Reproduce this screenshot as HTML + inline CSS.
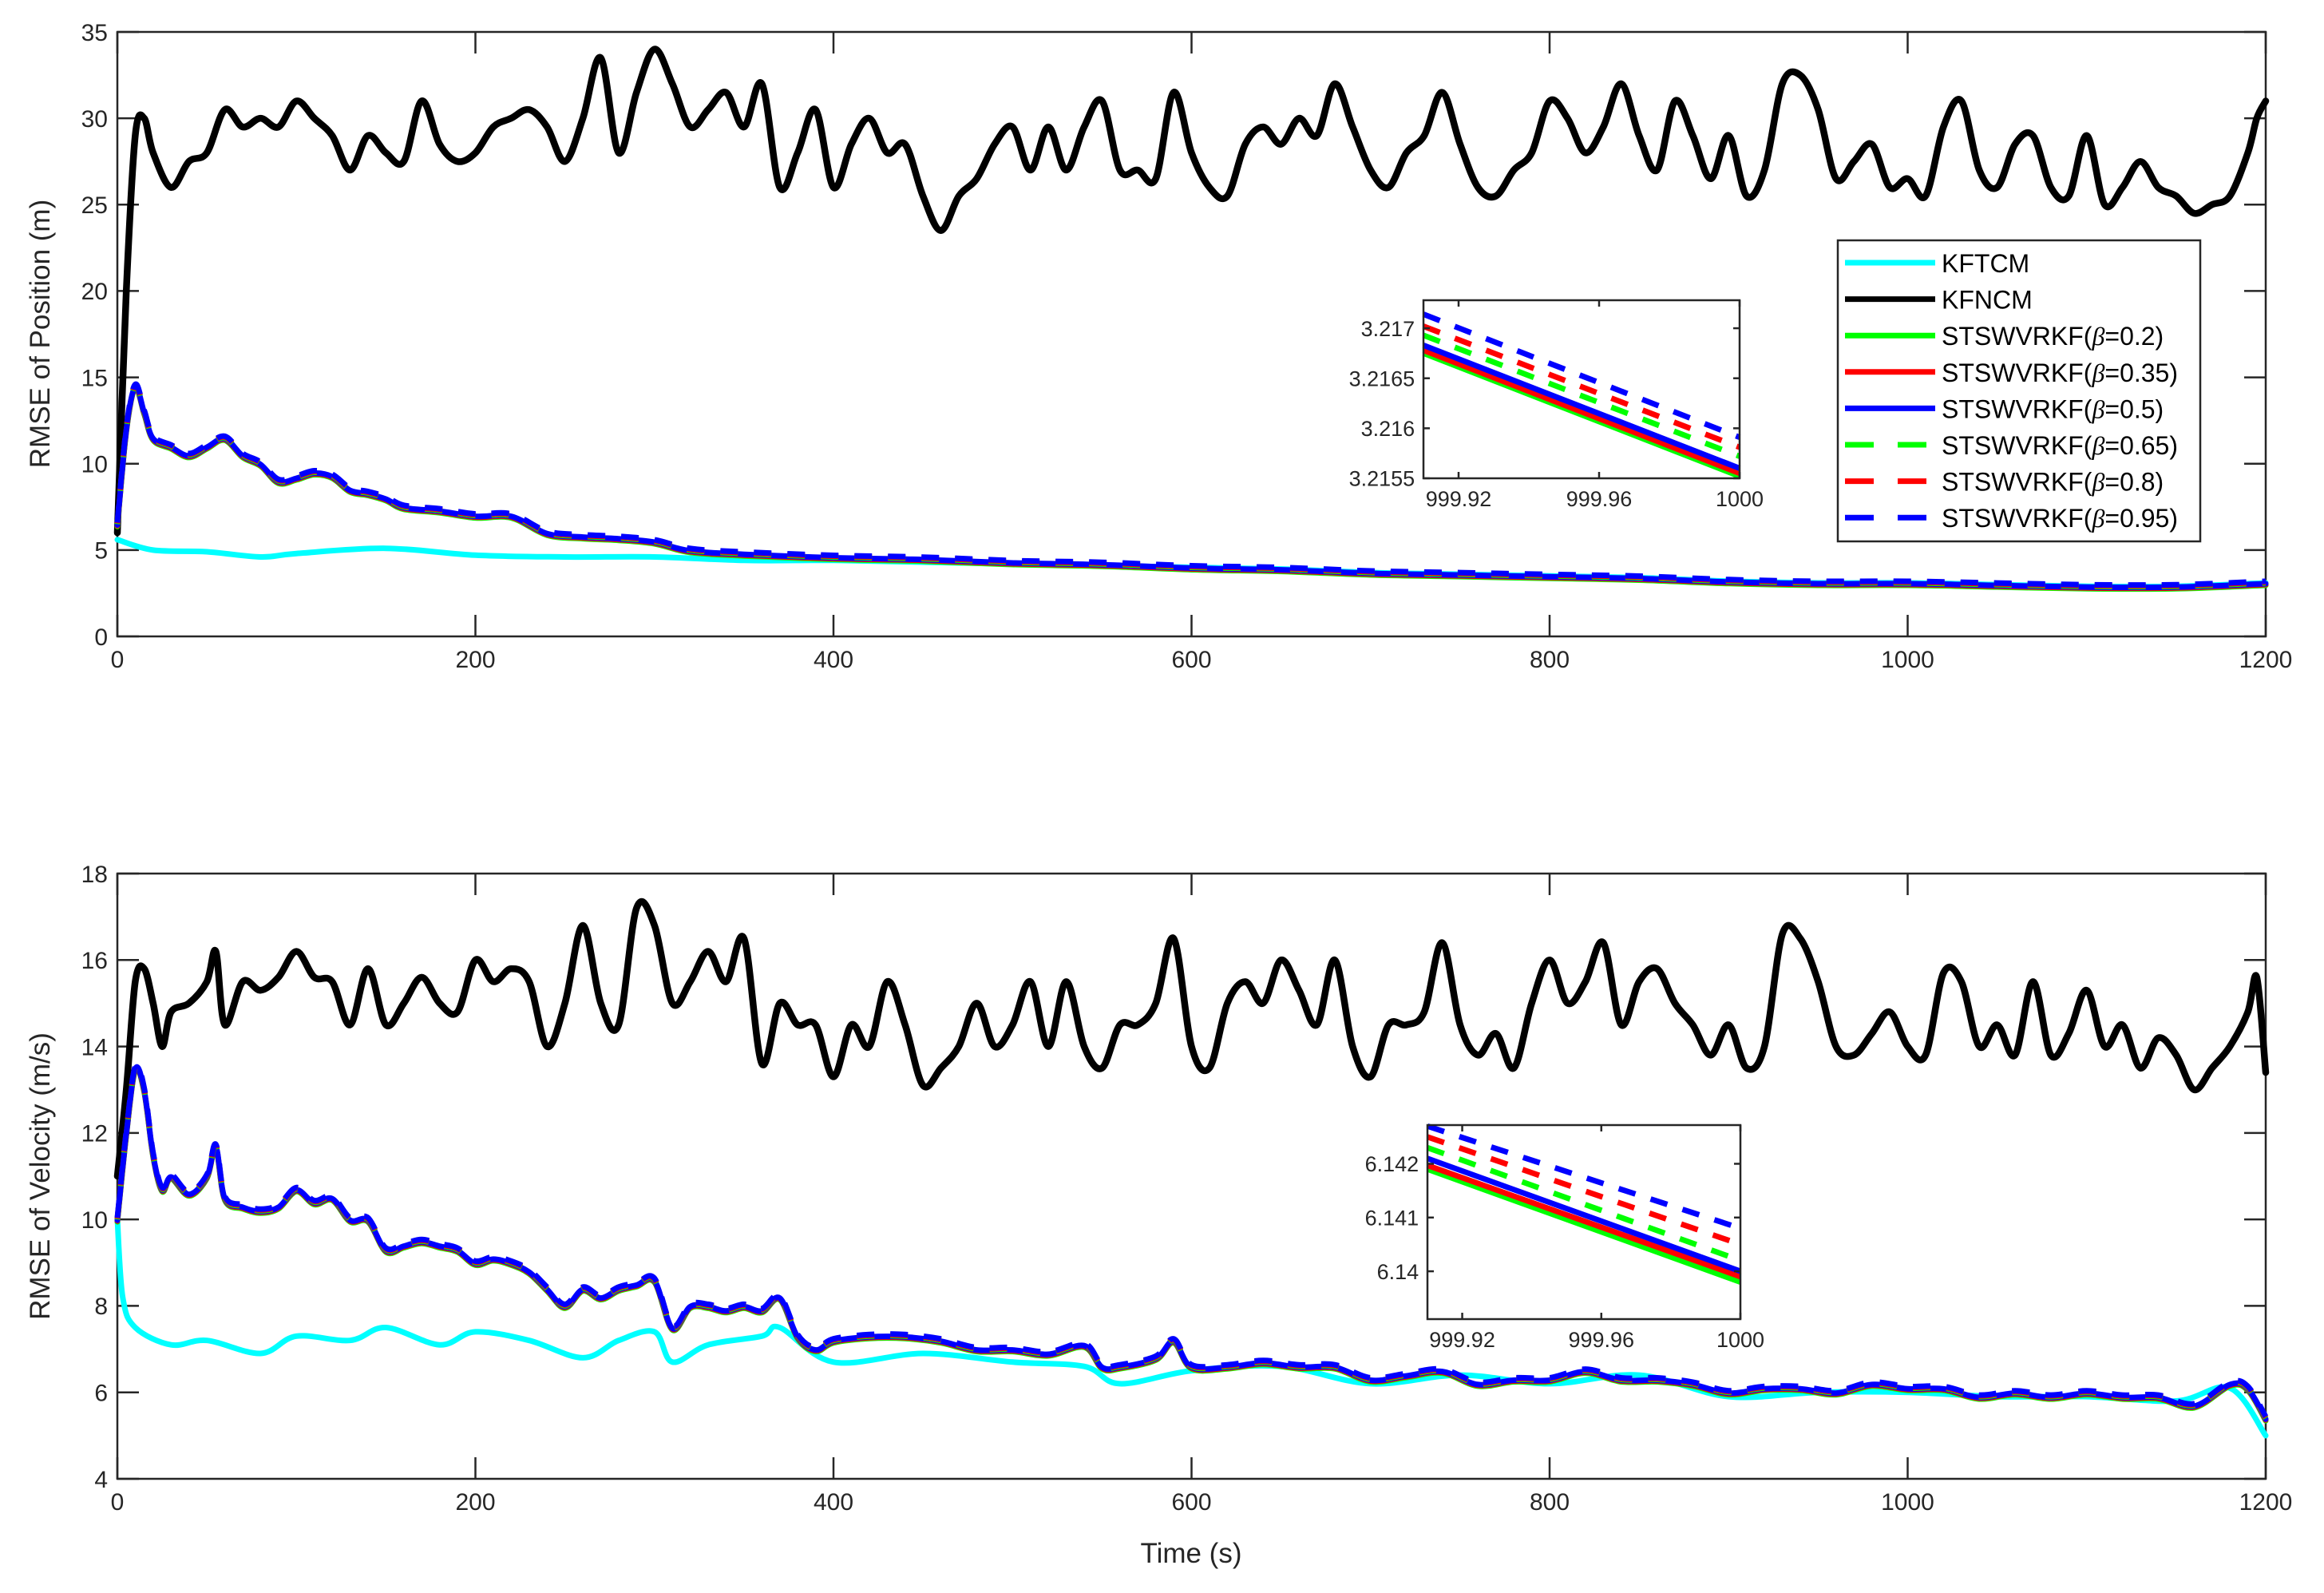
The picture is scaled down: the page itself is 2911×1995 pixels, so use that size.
<!DOCTYPE html>
<html><head><meta charset="utf-8"><style>
html,body{margin:0;padding:0;background:#fff;}
svg{display:block;font-family:"Liberation Sans",sans-serif;}
</style></head><body>
<svg id="fig" width="2911" height="1995" viewBox="0 0 2911 1995" xmlns="http://www.w3.org/2000/svg">
<rect width="2911" height="1995" fill="#fff"/>
</svg>
<script>
// ---------- data ----------
const posBlackT=[0,5,10,15,20,30,40,50,60,70,80,90,100,110,120,130,140,150,160,170,180,190,200,210,220,230,240,250,260,270,280,290,300,310,320,330,340,350,360,370,380,390,400,410,420,430,440,450,460,470,480,490,500,510,520,530,540,550,560,570,580,590,600,610,620,630,640,650,660,670,680,690,700,710,720,730,740,750,760,770,780,790,800,810,820,830,840,850,860,870,880,890,900,910,920,930,940,950,960,970,980,990,1000,1010,1020,1030,1040,1050,1060,1070,1080,1090,1100,1110,1120,1130,1140,1150,1160,1170,1180,1190,1195,1200];
const posBlackV=[6,20,29,30,28,26,27.5,28,30.5,29.5,30,29.5,31,30,29,27,29,28,27.5,31,28.5,27.5,28,29.5,30,30.5,29.5,27.5,30,33.5,28,31.5,34,32,29.5,30.5,31.5,29.5,32,26,28,30.5,26,28.5,30,28,28.5,25.5,23.5,25.5,26.5,28.5,29.5,27,29.5,27,29.5,31,27,27,26.5,31.5,28,26,25.5,28.5,29.5,28.5,30,29,32,29.5,27,26,28,29,31.5,28.5,26,25.5,27,28,31,30,28,29.5,32,29,27,31,29,26.5,29,25.5,27,32,32.5,30.5,26.5,27.5,28.5,26,26.5,25.5,29.5,31,27,26,28.5,29,26,25.5,29,25,26,27.5,26,25.5,24.5,25,25.5,28,30,31];
const posFiltT=[0,5,10,15,20,30,40,50,60,70,80,90,100,110,120,130,140,150,160,180,200,220,240,260,280,300,320,350,400,450,500,550,600,650,700,750,800,850,900,950,1000,1050,1100,1150,1200];
const posFiltV=[6.5,12,14.5,13,11.5,11,10.5,11,11.5,10.5,10,9,9.2,9.5,9.3,8.5,8.3,8,7.5,7.3,7,7,6,5.8,5.7,5.5,5,4.8,4.6,4.5,4.3,4.2,4,3.9,3.7,3.6,3.5,3.4,3.2,3.1,3.1,3,2.9,2.9,3.1];
const posCyanT=[0,20,50,80,100,150,200,250,300,350,400,450,500,550,600,650,700,750,800,850,900,950,1000,1050,1100,1150,1200];
const posCyanV=[5.6,5,4.9,4.6,4.8,5.1,4.7,4.6,4.6,4.4,4.4,4.3,4.2,4.1,4,3.9,3.7,3.6,3.5,3.4,3.2,3.1,3.1,3,2.9,2.9,3.1];

const velBlackT=[0,5,10,15,20,25,30,40,50,55,60,70,80,90,100,110,120,130,140,150,160,170,180,190,200,210,220,230,240,250,260,270,280,290,300,310,320,330,340,350,360,370,380,390,400,410,420,430,440,450,460,470,480,490,500,510,520,530,540,550,560,570,580,590,600,610,620,630,640,650,660,670,680,690,700,710,720,730,740,750,760,770,780,790,800,810,820,830,840,850,860,870,880,890,900,910,920,930,940,950,960,970,980,990,1000,1010,1020,1030,1040,1050,1060,1070,1080,1090,1100,1110,1120,1130,1140,1150,1160,1170,1180,1190,1195,1200];
const velBlackV=[11,13,15.5,15.8,15,14,14.8,15,15.5,16.2,14.5,15.5,15.3,15.6,16.2,15.6,15.5,14.5,15.8,14.5,15,15.6,15,14.8,16,15.5,15.8,15.5,14,15,16.8,15,14.5,17.2,16.8,15,15.5,16.2,15.5,16.5,13.6,15,14.5,14.5,13.3,14.5,14,15.5,14.5,13.1,13.5,14,15,14,14.5,15.5,14,15.5,14,13.5,14.5,14.5,15,16.5,14,13.5,15,15.5,15,16,15.3,14.5,16,14,13.3,14.5,14.5,14.8,16.4,14.5,13.8,14.3,13.5,15,16,15,15.5,16.4,14.5,15.5,15.8,15,14.5,13.8,14.5,13.5,14,16.6,16.5,15.5,14,13.8,14.3,14.8,14,13.8,15.7,15.5,14,14.5,13.8,15.5,13.8,14.3,15.3,14,14.5,13.5,14.2,13.8,13,13.5,14,14.8,15.6,13.4];
const velFiltT=[0,5,10,15,20,25,30,40,50,55,60,70,80,90,100,110,120,130,140,150,160,170,180,190,200,210,220,230,240,250,260,270,280,290,300,310,320,330,340,350,360,370,380,390,400,420,440,460,480,500,520,540,550,560,580,590,600,620,640,660,680,700,720,740,760,780,800,820,840,860,880,900,920,940,960,980,1000,1020,1040,1060,1080,1100,1120,1140,1160,1180,1190,1200];
const velFiltV=[10,12,13.5,13,11.5,10.7,11,10.6,11,11.7,10.5,10.3,10.2,10.3,10.7,10.4,10.5,10,10,9.3,9.4,9.5,9.4,9.3,9,9.1,9,8.8,8.4,8,8.4,8.2,8.4,8.5,8.6,7.5,8,8,7.9,8,7.9,8.2,7.3,7,7.2,7.3,7.3,7.2,7,7,6.9,7.1,6.6,6.6,6.8,7.2,6.6,6.6,6.7,6.6,6.6,6.3,6.4,6.5,6.2,6.3,6.3,6.5,6.3,6.3,6.2,6,6.1,6.1,6,6.2,6.1,6.1,5.9,6,5.9,6,5.9,5.9,5.7,6.2,6.1,5.4];
const velCyanT=[0,3,10,30,50,80,100,130,150,180,200,230,260,280,300,310,330,360,370,400,450,500,540,560,600,650,700,750,800,850,900,950,1000,1050,1100,1150,1180,1200];
const velCyanV=[10,8.2,7.5,7.1,7.2,6.9,7.3,7.2,7.5,7.1,7.4,7.2,6.8,7.2,7.4,6.7,7.1,7.3,7.5,6.7,6.9,6.7,6.6,6.2,6.5,6.6,6.2,6.4,6.2,6.4,5.9,6,6,5.9,5.9,5.8,6.1,5];

const insetX=[999.91,1000];
const inset1Start=[3.21675,3.21678,3.21683,3.21693,3.21702,3.21714];
const inset1End=[3.21552,3.21555,3.2156,3.21572,3.21581,3.21591];
const inset2Start=[6.1419,6.14197,6.1421,6.1423,6.1425,6.1427];
const inset2End=[6.1398,6.1399,6.14,6.1402,6.1405,6.1408];

const xTicks=[0,200,400,600,800,1000,1200];
const posYTicks=[0,5,10,15,20,25,30,35];
const velYTicks=[4,6,8,10,12,14,16,18];
const in1XTicks=[999.92,999.96,1000];
const in1YTicks=[3.2155,3.216,3.2165,3.217];
const in1YLabels=["3.2155","3.216","3.2165","3.217"];
const in2YTicks=[6.14,6.141,6.142];
const in2YLabels=["6.14","6.141","6.142"];
const legendLabels=["KFTCM","KFNCM","0.2","0.35","0.5","0.65","0.8","0.95"];

// ---------- drawing ----------
const NS="http://www.w3.org/2000/svg";
const svg=document.getElementById('fig');
function mk(tag,attrs,parent){const e=document.createElementNS(NS,tag);for(const k in attrs)e.setAttribute(k,attrs[k]);(parent||svg).appendChild(e);return e;}
const TXT="#262626";
const colors=["#00ff00","#ff0000","#0000ff","#00ff00","#ff0000","#0000ff"];
const dashes=[null,null,null,"22 20","22 20","22 20"];

function axes(name,L,R,T,B,x0,x1,y0,y1){
  const sx=v=>L+(v-x0)/(x1-x0)*(R-L);
  const sy=v=>B-(v-y0)/(y1-y0)*(B-T);
  return {L,R,T,B,sx,sy,name};
}
function frame(ax,xt,yt,fs,tickLen,xlabels,ylabels,lw){
  const g=mk('g',{});
  
  
  mk('rect',{x:ax.L,y:ax.T,width:ax.R-ax.L,height:ax.B-ax.T,fill:'none',stroke:TXT,'stroke-width':lw},g);
  xt.forEach((v,i)=>{
    const x=ax.sx(v);
    mk('line',{x1:x,x2:x,y1:ax.B,y2:ax.B-tickLen,stroke:TXT,'stroke-width':lw},g);
    mk('line',{x1:x,x2:x,y1:ax.T,y2:ax.T+tickLen,stroke:TXT,'stroke-width':lw},g);
    const t=mk('text',{x:x,y:ax.B+fs*1.3,'font-size':fs,fill:TXT,'text-anchor':'middle'},g);
    t.textContent=xlabels?xlabels[i]:String(v);
    
    
  });
  yt.forEach((v,i)=>{
    const y=ax.sy(v);
    mk('line',{x1:ax.L,x2:ax.L+tickLen,y1:y,y2:y,stroke:TXT,'stroke-width':lw},g);
    mk('line',{x1:ax.R,x2:ax.R-tickLen,y1:y,y2:y,stroke:TXT,'stroke-width':lw},g);
    const t=mk('text',{x:ax.L-fs*0.4,y:y+fs*0.36,'font-size':fs,fill:TXT,'text-anchor':'end'},g);
    t.textContent=ylabels?ylabels[i]:String(v);
    
    
  });
  return g;
}
function smoothPath(P){
  let d='M'+P[0][0].toFixed(1)+','+P[0][1].toFixed(1);
  for(let i=0;i<P.length-1;i++){
    const p0=P[Math.max(0,i-1)],p1=P[i],p2=P[i+1],p3=P[Math.min(P.length-1,i+2)];
    const c1x=p1[0]+(p2[0]-p0[0])/6,c1y=p1[1]+(p2[1]-p0[1])/6;
    const c2x=p2[0]-(p3[0]-p1[0])/6,c2y=p2[1]-(p3[1]-p1[1])/6;
    d+=' C'+c1x.toFixed(1)+','+c1y.toFixed(1)+' '+c2x.toFixed(1)+','+c2y.toFixed(1)+' '+p2[0].toFixed(1)+','+p2[1].toFixed(1);
  }
  return d;
}
function series(ax,T,V,color,w,dash,off,name){
  const P=T.map((t,i)=>[ax.sx(t),ax.sy(V[i])+off]);
  const a={d:smoothPath(P),fill:'none',stroke:color,'stroke-width':w,'stroke-linejoin':'round','stroke-linecap':dash?'butt':'round'};
  if(dash)a['stroke-dasharray']=dash;
  const p=mk('path',a);
  
  
  return p;
}

// top axes
const axTop=axes('position',147,2838,40,797,0,1200,0,35);
frame(axTop,xTicks,posYTicks,30,27,null,null,2.5);
series(axTop,posCyanT,posCyanV,'#00ffff',7,null,0,'kftcm-position-line');
series(axTop,posBlackT,posBlackV,'#000',8.5,null,0,'kfncm-position-line');
[3,2,1,0,-1,-2].forEach((o,i)=>series(axTop,posFiltT,posFiltV,colors[i],7,dashes[i],o,'stswvrkf-position-line-'+i));
let yl=mk('text',{x:0,y:0,'font-size':35,fill:TXT,'text-anchor':'middle',transform:'translate(62,418) rotate(-90)'});
yl.textContent='RMSE of Position (m)';



// bottom axes
const axBot=axes('velocity',147,2838,1094,1852,0,1200,4,18);
frame(axBot,xTicks,velYTicks,30,27,null,null,2.5);
series(axBot,velCyanT,velCyanV,'#00ffff',7,null,0,'kftcm-velocity-line');
series(axBot,velBlackT,velBlackV,'#000',8.5,null,0,'kfncm-velocity-line');
[3,2,1,0,-1,-2].forEach((o,i)=>series(axBot,velFiltT,velFiltV,colors[i],7,dashes[i],o,'stswvrkf-velocity-line-'+i));
yl=mk('text',{x:0,y:0,'font-size':35,fill:TXT,'text-anchor':'middle',transform:'translate(62,1473) rotate(-90)'});
yl.textContent='RMSE of Velocity (m/s)';


let xl=mk('text',{x:1492,y:1957,'font-size':35,fill:TXT,'text-anchor':'middle'});
xl.textContent='Time (s)';



// insets
function inset(name,L,R,T,B,y0,y1,yt,ylab,st,en){
  const ax=axes(name,L,R,T,B,insetX[0],insetX[1],y0,y1);
  mk('rect',{x:L,y:T,width:R-L,height:B-T,fill:'#fff'});
  for(let i=0;i<6;i++){
    const a={x1:ax.sx(insetX[0]),x2:ax.sx(insetX[1]),y1:ax.sy(st[i]),y2:ax.sy(en[i]),stroke:colors[i],'stroke-width':7};
    if(dashes[i])a['stroke-dasharray']='22 20';
    const l=mk('line',a);
    
    
  }
  frame(ax,in1XTicks,yt,27,8,["999.92","999.96","1000"],ylab,2.5);
}
inset('inset-position',1783,2179,376,599,3.2155,3.21728,in1YTicks,in1YLabels,inset1Start,inset1End);
inset('inset-velocity',1788,2180,1409,1652,6.13911,6.14272,in2YTicks,in2YLabels,inset2Start,inset2End);

// legend
const lg=mk('g',{});


mk('rect',{x:2302,y:301,width:454,height:377,fill:'#fff',stroke:TXT,'stroke-width':2.5},lg);
const lgColors=['#00ffff','#000','#00ff00','#ff0000','#0000ff','#00ff00','#ff0000','#0000ff'];
legendLabels.forEach((lab,i)=>{
  const y=329+i*45.6;
  const a={x1:2311,x2:2424,y1:y,y2:y,stroke:lgColors[i],'stroke-width':7};
  if(i>=5)a['stroke-dasharray']='36 30';
  const l=mk('line',a,lg);
  
  
  const t=mk('text',{x:2432,y:y+12,'font-size':32,fill:'#000'},lg);
  if(i<2){t.textContent=lab;}
  else{
    t.appendChild(document.createTextNode('STSWVRKF('));
    const b=mk('tspan',{'font-style':'italic','font-family':'"Liberation Serif",serif'},t);b.textContent='β';
    t.appendChild(document.createTextNode('='+lab+')'));
  }
  
  
});
</script>
</body></html>
